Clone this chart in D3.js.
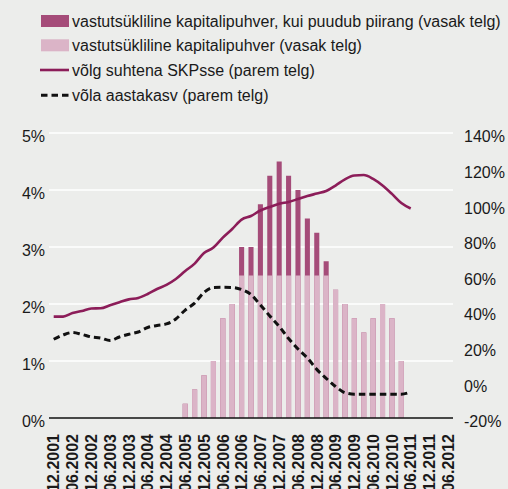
<!DOCTYPE html>
<html>
<head>
<meta charset="utf-8">
<script src="https://cdn.jsdelivr.net/npm/d3@7"></script>
<style>
  html, body { margin: 0; padding: 0; background: #ecedeb; }
  svg { display: block; }
  text { font-family: "Liberation Sans", Arial, Helvetica, sans-serif; fill: #1a1a1a; }
</style>
</head>
<body>
<div id="chart"></div>
<script>
// Quarterly periods on the x axis (month.year)
const quarters = [
  "12.2001","03.2002","06.2002","09.2002","12.2002","03.2003","06.2003","09.2003",
  "12.2003","03.2004","06.2004","09.2004","12.2004","03.2005","06.2005","09.2005",
  "12.2005","03.2006","06.2006","09.2006","12.2006","03.2007","06.2007","09.2007",
  "12.2007","03.2008","06.2008","09.2008","12.2008","03.2009","06.2009","09.2009",
  "12.2009","03.2010","06.2010","09.2010","12.2010","03.2011","06.2011","09.2011",
  "12.2011","03.2012","06.2012"
];
// Periods shown as tick labels (half-yearly)
const tickLabels = [
  "12.2001","06.2002","12.2002","06.2003","12.2003","06.2004","12.2004","06.2005",
  "12.2005","06.2006","12.2006","06.2007","12.2007","06.2008","12.2008","06.2009",
  "12.2009","06.2010","12.2010","06.2011","12.2011","06.2012"
];

// Debt-to-GDP ratio, % (right axis), 12.2001 – 06.2011
const debtToGdp = [
  36.9, 36.9, 38.9, 40.1, 41.5, 41.6, 43.3, 45.0, 46.6, 47.4,
  49.6, 52.4, 54.7, 58.0, 62.5, 66.7, 72.6, 75.7, 81.3, 86.1,
  91.4, 93.4, 96.5, 98.5, 100.3, 101.3, 102.9, 104.6, 106.0, 107.4,
  110.5, 114.0, 116.1, 116.4, 114.2, 110.5, 105.8, 100.7, 97.6
];
// Annual debt growth, % (right axis), 12.2001 – 06.2011
const debtGrowth = [
  24.2, 26.6, 28.0, 26.9, 25.5, 24.9, 23.5, 25.5, 27.0, 28.3,
  30.8, 31.9, 32.8, 35.6, 40.6, 44.5, 50.5, 53.3, 53.4, 53.3,
  52.1, 49.3, 43.4, 37.3, 31.4, 24.6, 18.7, 13.7, 7.3, 2.3,
  -2.3, -5.8, -6.6, -6.6, -6.6, -6.6, -6.6, -6.6, -5.4
];

// Countercyclical capital buffer, % (left axis), 06.2005 – 03.2011
const bufferPeriods = [
  "06.2005","09.2005","12.2005","03.2006","06.2006","09.2006","12.2006","03.2007",
  "06.2007","09.2007","12.2007","03.2008","06.2008","09.2008","12.2008","03.2009",
  "06.2009","09.2009","12.2009","03.2010","06.2010","09.2010","12.2010","03.2011"
];
// Buffer without the 2.5% cap
const bufferUncapped = [
  0.25, 0.5, 0.75, 1.0, 1.75, 2.0, 3.0, 3.0, 3.75, 4.25, 4.5, 4.25,
  4.0, 3.5, 3.25, 2.75, 2.25, 2.0, 1.75, 1.5, 1.75, 2.0, 1.75, 1.0
];
// Buffer with the cap applied
const bufferCapped = [
  0.25, 0.5, 0.75, 1.0, 1.75, 2.0, 2.5, 2.5, 2.5, 2.5, 2.5, 2.5,
  2.5, 2.5, 2.5, 2.5, 2.25, 2.0, 1.75, 1.5, 1.75, 2.0, 1.75, 1.0
];

const leftTicks = [0, 1, 2, 3, 4, 5];
const rightTicks = [-20, 0, 20, 40, 60, 80, 100, 120, 140];

const legendItems = [
  { label: "vastutsükliline kapitalipuhver, kui puudub piirang (vasak telg)", type: "rect", color: "#a54c79" },
  { label: "vastutsükliline kapitalipuhver (vasak telg)", type: "rect", color: "#dbb4c7" },
  { label: "võlg suhtena SKPsse (parem telg)", type: "line", color: "#8c1d59" },
  { label: "võla aastakasv (parem telg)", type: "dash", color: "#111111" }
];

const W = 508, H = 489;
const plot = { left: 49, right: 453, top: 133, bottom: 418 };
const colors = { dark: "#a54c79", pink: "#dbb4c7", line: "#8c1d59", dash: "#111111" };

const svg = d3.select("#chart").append("svg")
  .attr("width", W).attr("height", H);

svg.append("rect").attr("width", W).attr("height", H).attr("fill", "#ecedeb");

const x = d3.scaleBand().domain(quarters).range([plot.left, plot.right]).padding(0);
const bw = x.bandwidth();
const cx = q => x(q) + bw / 2;
const yL = d3.scaleLinear().domain([0, 5]).range([plot.bottom, plot.top]);
const yR = d3.scaleLinear().domain([-20, 140]).range([plot.bottom, plot.top]);

// Horizontal gridlines on the left-axis ticks
svg.append("g").selectAll("line")
  .data(leftTicks.filter(t => t > 0))
  .join("line")
  .attr("x1", plot.left).attr("x2", plot.right)
  .attr("y1", d => yL(d)).attr("y2", d => yL(d))
  .attr("stroke", "#ffffff").attr("stroke-width", 1.6);

// Left axis labels
svg.append("g").selectAll("text")
  .data(leftTicks)
  .join("text")
  .attr("x", 45).attr("y", d => yL(d) + 8.8)
  .attr("text-anchor", "end")
  .attr("font-size", 16)
  .text(d => d + "%");

// Right axis labels
svg.append("g").selectAll("text")
  .data(rightTicks)
  .join("text")
  .attr("x", 464).attr("y", d => yR(d) + 9.3)
  .attr("text-anchor", "start")
  .attr("font-size", 16)
  .text(d => d + "%");

// Bars: uncapped buffer behind, capped buffer in front
const barW = bw * 0.54;
const bars = bufferPeriods.map((p, i) => ({ p, full: bufferUncapped[i], cap: bufferCapped[i] }));
svg.append("g").selectAll("rect")
  .data(bars)
  .join("rect")
  .attr("x", d => cx(d.p) - barW / 2)
  .attr("width", barW)
  .attr("y", d => yL(d.full))
  .attr("height", d => yL(0) - yL(d.full))
  .attr("fill", colors.dark);
svg.append("g").selectAll("rect")
  .data(bars)
  .join("rect")
  .attr("x", d => cx(d.p) - barW / 2)
  .attr("width", barW)
  .attr("y", d => yL(d.cap))
  .attr("height", d => yL(0) - yL(d.cap))
  .attr("fill", colors.pink);

// Baseline
svg.append("line")
  .attr("x1", plot.left).attr("x2", plot.right)
  .attr("y1", yL(0)).attr("y2", yL(0))
  .attr("stroke", "#111").attr("stroke-width", 1.5);

// Lines on the right axis
const lineGen = d3.line()
  .x((d, i) => cx(quarters[i]))
  .y(d => yR(d))
  .curve(d3.curveMonotoneX);

svg.append("path")
  .attr("d", lineGen(debtGrowth))
  .attr("fill", "none")
  .attr("stroke", colors.dash)
  .attr("stroke-width", 3)
  .attr("stroke-dasharray", "6.5,4");

svg.append("path")
  .attr("d", lineGen(debtToGdp))
  .attr("fill", "none")
  .attr("stroke", colors.line)
  .attr("stroke-width", 2.6);

// X axis labels, rotated
const xAxis = d3.axisBottom(x).tickValues(tickLabels).tickSize(0).tickPadding(0);
const gx = svg.append("g").attr("transform", `translate(0,${plot.bottom})`).call(xAxis);
gx.select(".domain").remove();
gx.selectAll("text")
  .attr("font-family", "\"Liberation Sans\", Arial, Helvetica, sans-serif")
  .attr("font-size", 16)
  .attr("font-weight", "bold")
  .attr("fill", "#1a1a1a")
  .attr("text-anchor", "end")
  .attr("transform", "rotate(-90)")
  .attr("x", -16)
  .attr("y", 0)
  .attr("dy", "0.36em");

// Legend
const lg = svg.append("g");
const rowY = [21, 45.3, 70, 95.3];
legendItems.forEach((item, i) => {
  const y = rowY[i];
  if (item.type === "rect") {
    lg.append("rect").attr("x", 41).attr("y", y - 6).attr("width", 28).attr("height", 12).attr("fill", item.color);
  } else if (item.type === "line") {
    lg.append("line").attr("x1", 40).attr("x2", 69).attr("y1", y).attr("y2", y)
      .attr("stroke", item.color).attr("stroke-width", 2.6);
  } else {
    lg.append("line").attr("x1", 41).attr("x2", 69).attr("y1", y).attr("y2", y)
      .attr("stroke", item.color).attr("stroke-width", 3).attr("stroke-dasharray", "6.5,4");
  }
  lg.append("text").attr("x", 72).attr("y", y + 5.8).attr("font-size", 16).text(item.label);
});
</script>
</body>
</html>
